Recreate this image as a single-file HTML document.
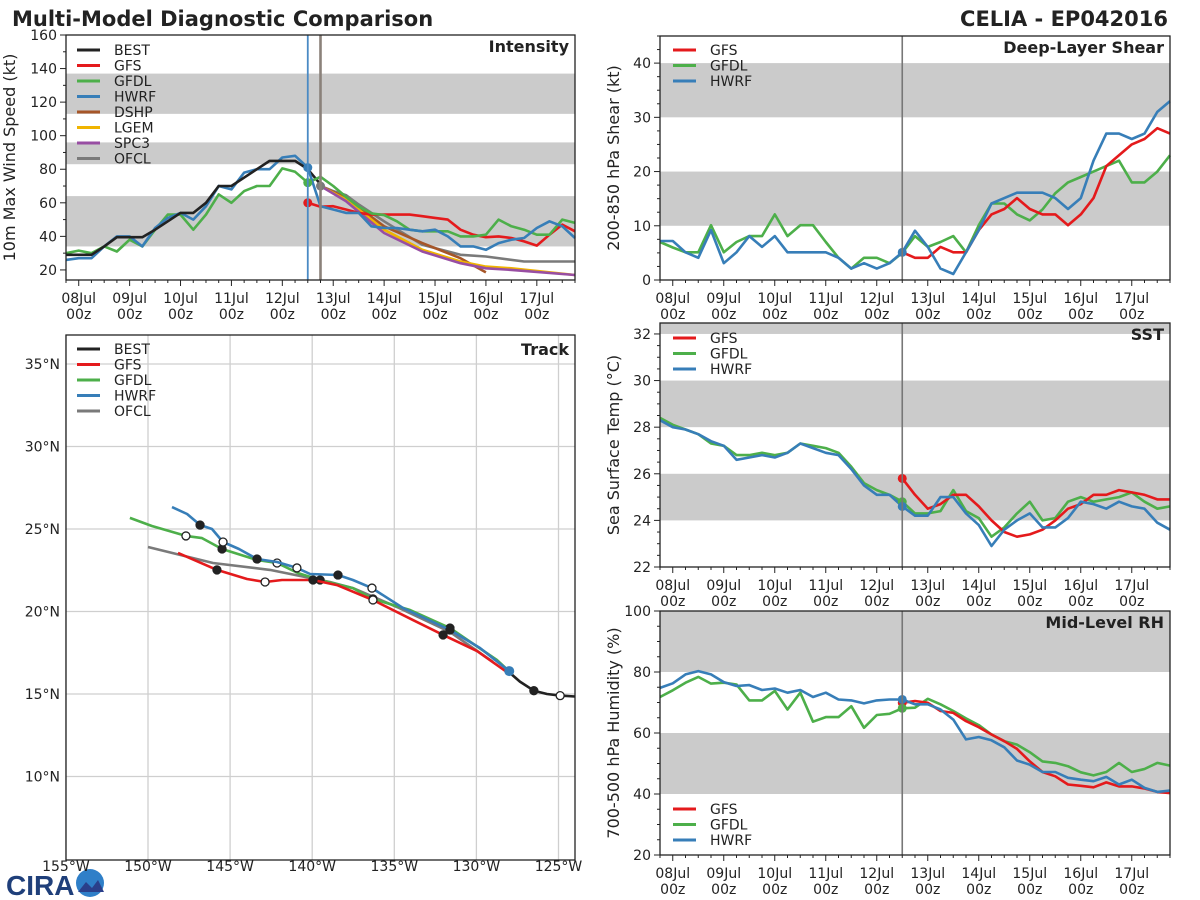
<!DOCTYPE html>
<html><head><meta charset="utf-8"><style>
html,body{margin:0;padding:0;background:#fff;}
svg{display:block;font-family:"DejaVu Sans","Liberation Sans",sans-serif;}
</style></head><body>
<svg id="chart" width="1200" height="900" viewBox="0 0 1200 900" xmlns="http://www.w3.org/2000/svg">
<text x="12" y="26" font-size="21" font-weight="bold" fill="#222">Multi-Model Diagnostic Comparison</text>
<text x="1168" y="26" font-size="21" font-weight="bold" fill="#222" text-anchor="end">CELIA - EP042016</text>
<g>
<text x="6" y="895" font-size="28" font-weight="bold" fill="#1f3f7a" font-family="Liberation Sans, sans-serif">CIRA</text>
<circle cx="90" cy="883" r="14" fill="#2f7fc8"/>
<path d="M78 892 L86 882 L92 888 L98 880 L104 892 Z" fill="#2a3f8a"/>
</g>
</svg>
<script>
const NS='http://www.w3.org/2000/svg';
const svg=document.getElementById('chart');
function mk(tag,attrs,parent){const e=document.createElementNS(NS,tag);for(const k in attrs)e.setAttribute(k,attrs[k]);(parent||svg).appendChild(e);return e;}

// ---------- DATA ----------
const C={BEST:'#222222',GFS:'#e41a1c',GFDL:'#4daf4a',HWRF:'#377eb8',DSHP:'#a65628',LGEM:'#f0b400',SPC3:'#984ea3',OFCL:'#7a7a7a'};
const dayLabels=['08Jul','09Jul','10Jul','11Jul','12Jul','13Jul','14Jul','15Jul','16Jul','17Jul'];
const T0=-0.25;
const FC0=4.5;

const intBEST=[29,29,29,34,39.5,39.5,39.5,44,49,54,54,60,70,70,75,80,85,85,85,80,71];
const intHWRFhist=[26,27,27,34,40,40,34,45,51,54,50,58,70,68,78,80,80,87,88,81];
const intHWRFfc=[58,56,54,54,46,45,45,44,43,44,40,34,34,32,36,38,39,45,49,46,39];
const intGFDLhist=[30,31.5,30,34,31,38,34,44,53,53,44,53,65,60,67,70,70,80.5,78.5,72];
const intGFDLfc=[75.5,70,63.6,57.7,53.7,52.7,49,44,43,43,43,40,40,41,50,46,44,41,41,50,48];
const intGFSfc=[60,57.7,58,56,54,53,53,53,53,52,51,50,44,41,39.5,40,39,37,34.5,41,47,43];
const ofclT=[4.75,5.0,5.25,5.5,6.0,6.75,7.5,8.0,8.75,9.75];
const ofclV=[70,67,64.6,59,49,35,29,28,25,25];
const dshpT=[4.75,5.25,6.0,6.75,7.5,8.0];
const dshpV=[70,63,46,36,27,18.5];
const lgemT=[4.75,5.25,6.0,6.75,7.5,8.0,8.5,9.75];
const lgemV=[70,62,44,32,25,22,21,17];
const spc3T=[4.75,5.25,6.0,6.75,7.5,8.0,8.5,9.75];
const spc3V=[70,61,42,31,24,21,20,17];

const shrHWRF=[7.2,7.2,5.1,4.1,9.2,3.1,5.1,8.1,6.1,8.1,5.1,5.1,5.1,5.1,4.1,2.1,3.1,2.1,3.1,5.1,9.1,6.1,2.1,1.1,5.1,9.2,14.1,15.1,16.1,16.1,16.1,15.1,13.1,15.1,22,27,27,26,27,31,33];
const shrGFDL=[7,6,5.1,5.1,10.1,5.1,7,8.1,8.1,12.1,8.1,10.1,10.1,7,4.1,2.1,4.1,4.1,3.1,5,8.1,6.1,7,8.1,5.1,10.1,14.1,14.1,12.1,11,13,16,18,19,20,21,22,18,18,20,23];
const shrGFS=[5.1,4.1,4.1,6.1,5.1,5.1,9.2,12.1,13.1,15.1,13.1,12.1,12.1,10.1,12.1,15.1,21,23,25,26,28,27];

const sstHWRF=[28.3,28.0,27.9,27.7,27.4,27.2,26.6,26.7,26.8,26.7,26.9,27.3,27.1,26.9,26.8,26.2,25.5,25.1,25.1,24.6,24.2,24.2,25.0,25.0,24.3,23.8,22.9,23.6,24.0,24.3,23.7,23.7,24.1,24.8,24.7,24.5,24.8,24.6,24.5,23.9,23.6];
const sstGFDL=[28.4,28.1,27.9,27.7,27.3,27.2,26.8,26.8,26.9,26.8,26.9,27.3,27.2,27.1,26.9,26.3,25.6,25.3,25.1,24.8,24.3,24.3,24.4,25.3,24.4,24.1,23.3,23.7,24.3,24.8,24.0,24.1,24.8,25.0,24.8,24.9,25.0,25.2,24.8,24.5,24.6];
const sstGFS=[25.8,25.1,24.5,24.7,25.1,25.1,24.6,24.0,23.5,23.3,23.4,23.6,24.0,24.5,24.7,25.1,25.1,25.3,25.2,25.1,24.9,24.9];

const rhHWRF=[74.8,76.3,79.2,80.3,79.2,76.7,75.4,75.7,74.1,74.6,73.2,74.1,71.8,73.2,71,70.7,69.7,70.7,71,71,69.4,69.4,67.7,64.4,57.9,58.7,57.6,55.3,51,49.6,47.2,47.2,45.3,44.7,44.2,45.6,43.1,44.7,42,40.7,41.1];
const rhGFDL=[71.8,74,76.5,78.4,76.2,76.5,75.9,70.7,70.7,73.8,67.7,73.2,63.7,65.2,65.2,68.8,61.7,65.9,66.3,68.1,68.3,71.2,69.4,67.2,64.8,62.6,59.5,57.3,56.2,53.7,50.7,50.2,49.1,47.1,46.1,47.2,50.2,47.2,48.2,50.2,49.3];
const rhGFS=[69.9,70.5,69.9,67.2,66.6,63.9,61.9,59.5,57.3,54.8,50.7,47.2,45.8,43.1,42.7,42.2,43.8,42.5,42.5,41.8,40.7,40.3];

const trkBESTlon=[-128.1,-127.35,-126.5,-125.7,-124.9,-124.0];
const trkBESTlat=[16.4,15.75,15.2,15.0,14.9,14.85];
const trkGFSlon=[-128.14,-129.96,-132.03,-133.86,-136.3,-138.49,-139.95,-141.84,-142.87,-143.97,-145.8,-148.17];
const trkGFSlat=[16.33,17.6,18.58,19.48,20.7,21.6,21.91,21.91,21.79,21.97,22.52,23.55];
const trkHWRFlon=[-128.0,-129.78,-131.61,-134.47,-136.36,-137.52,-138.43,-140.13,-140.93,-142.14,-143.36,-144.46,-145.43,-146.1,-146.83,-147.62,-148.54];
const trkHWRFlat=[16.39,17.79,18.88,20.21,21.42,21.91,22.21,22.27,22.64,23.0,23.18,23.79,24.21,25.0,25.24,25.91,26.33];
const trkGFDLlon=[-128.08,-128.75,-131.61,-134.04,-136.3,-137.52,-139.52,-140.86,-142.14,-143.36,-145.49,-146.71,-147.69,-149.76,-151.1];
const trkGFDLlat=[16.45,17.06,19.0,20.09,20.76,21.42,21.91,22.33,22.94,23.12,23.79,24.45,24.58,25.18,25.67];
const trkOFCLlon=[-128.99,-131.61,-134.84,-137.52,-138.92,-142.57,-146.04,-150];
const trkOFCLlat=[16.94,18.76,20.27,21.42,21.79,22.52,22.94,23.91];
const lonTicks=[-155,-150,-145,-140,-135,-130,-125];
const latTicks=[10,15,20,25,30,35];

function seriesTimes(start,n){const a=[];for(let i=0;i<n;i++)a.push(start+0.25*i);return a;}

function timePanel(p){
  const g=mk('g',{});
  
  
  const X=t=>p.x0+(t-T0)*(p.x1-p.x0)/10;
  const Y=v=>p.y1-(v-p.ymin)*(p.y1-p.y0)/(p.ymax-p.ymin);
  p.X=X;p.Y=Y;p.g=g;
  p.bands.forEach((b,i)=>{
    const lo=Math.max(b[0],p.ymin),hi=Math.min(b[1],p.ymax);
    const r=mk('rect',{x:p.x0,y:Y(hi),width:p.x1-p.x0,height:Y(lo)-Y(hi),fill:'#cbcbcb'},g);
    
    
  });
  for(let v=p.ymin0;v<=p.ymax+1e-6;v+=p.minor){
    const maj=Math.abs((v-p.ymin0)/p.major-Math.round((v-p.ymin0)/p.major))<1e-6;
    if(v<p.ymin-1e-6)continue;
    const l=mk('line',{x1:p.x0,x2:p.x0-(maj?6:3),y1:Y(v),y2:Y(v),stroke:'#222','stroke-width':1},g);
    
    
    if(maj){
      const t=mk('text',{x:p.x0-9,y:Y(v)+5,'font-size':14,'text-anchor':'end',fill:'#222'},g);
      t.textContent=String(Math.round(v));
      
      
    }
  }
  for(let i=0;i<=40;i++){
    const t=T0+0.25*i; if(t<T0||t>9.75)continue;
    const maj=Math.abs(t-Math.round(t))<1e-6;
    const l=mk('line',{x1:X(t),x2:X(t),y1:p.y1,y2:p.y1+(maj?6:3),stroke:'#222','stroke-width':1},g);
    
    
  }
  dayLabels.forEach((d,i)=>{
    const t1=mk('text',{x:X(i),y:p.y1+23,'font-size':14,'text-anchor':'middle',fill:'#222'},g);
    t1.textContent=d;
    
    
    const t2=mk('text',{x:X(i),y:p.y1+39,'font-size':14,'text-anchor':'middle',fill:'#222'},g);
    t2.textContent='00z';
    
    
  });
  const yl=mk('text',{x:0,y:0,'font-size':16,'text-anchor':'middle',fill:'#222',transform:`translate(${p.labelX},${(p.y0+p.y1)/2}) rotate(-90)`},g);
  yl.textContent=p.ylabel;
  
  
  const tt=mk('text',{x:p.x1-6,y:p.y0+17,'font-size':16,'font-weight':'bold','text-anchor':'end',fill:'#222'},g);
  tt.textContent=p.title;
  
  
  return p;
}
function frame(p){
  const r=mk('rect',{x:p.x0,y:p.y0,width:p.x1-p.x0,height:p.y1-p.y0,fill:'none',stroke:'#222','stroke-width':1.3},p.g);
  
  
}
function vline(p,t,color,w,name){
  const l=mk('line',{x1:p.X(t),x2:p.X(t),y1:p.y0,y2:p.y1,stroke:color,'stroke-width':w},p.g);
  
  
}
function series(p,times,vals,color,name){
  const pts=times.map((t,i)=>p.X(t).toFixed(1)+','+p.Y(vals[i]).toFixed(1)).join(' ');
  const l=mk('polyline',{points:pts,fill:'none',stroke:color,'stroke-width':2.6,'stroke-linejoin':'round'},p.g);
  
  
}
function dot(p,t,v,color,name){
  const c=mk('circle',{cx:p.X(t),cy:p.Y(v),r:4.5,fill:color},p.g);
  
  
}
function legend(g,x,y,items,name){
  const lg=mk('g',{},g);
  
  
  items.forEach((it,i)=>{
    const yy=y+i*15.5;
    const l=mk('line',{x1:x,x2:x+23,y1:yy,y2:yy,stroke:C[it],'stroke-width':3},lg);
    
    
    const t=mk('text',{x:x+37,y:yy+5,'font-size':14,fill:'#222'},lg);
    t.textContent=it;
    
    
  });
}

const pI=timePanel({name:'intensity-panel',x0:66,x1:575,y0:35,y1:280,ymin:14,ymax:160,ymin0:20,major:20,minor:10,bands:[[34,64],[83,96],[113,137]],ylabel:'10m Max Wind Speed (kt)',labelX:15,title:'Intensity'});
series(pI,seriesTimes(T0,intGFDLhist.length),intGFDLhist,C.GFDL,'gfdl-history-line');
series(pI,seriesTimes(T0,intHWRFhist.length),intHWRFhist,C.HWRF,'hwrf-history-line');
series(pI,seriesTimes(T0,intBEST.length),intBEST,C.BEST,'best-intensity-line');
series(pI,ofclT,ofclV,C.OFCL,'ofcl-intensity-line');
series(pI,dshpT,dshpV,C.DSHP,'dshp-intensity-line');
series(pI,lgemT,lgemV,C.LGEM,'lgem-intensity-line');
series(pI,spc3T,spc3V,C.SPC3,'spc3-intensity-line');
series(pI,seriesTimes(FC0,intGFSfc.length),intGFSfc,C.GFS,'gfs-intensity-line');
series(pI,[FC0].concat(seriesTimes(4.75,intGFDLfc.length)),[intGFDLhist[intGFDLhist.length-1]].concat(intGFDLfc),C.GFDL,'gfdl-intensity-line');
series(pI,[FC0].concat(seriesTimes(4.75,intHWRFfc.length)),[intHWRFhist[intHWRFhist.length-1]].concat(intHWRFfc),C.HWRF,'hwrf-intensity-line');
dot(pI,FC0,intGFSfc[0],C.GFS,'gfs-init-dot');
dot(pI,FC0,intGFDLhist[intGFDLhist.length-1],C.GFDL,'gfdl-init-dot');
dot(pI,FC0,intHWRFhist[intHWRFhist.length-1],C.HWRF,'hwrf-init-dot');
dot(pI,4.75,ofclV[0],C.OFCL,'ofcl-init-dot');
vline(pI,4.5,'#4a8ac4',1.8,'model-init-line');
vline(pI,4.75,'#8a817a',2.6,'ofcl-init-line');
legend(pI.g,77,50,['BEST','GFS','GFDL','HWRF','DSHP','LGEM','SPC3','OFCL'],'intensity-legend');
frame(pI);

const pS=timePanel({name:'shear-panel',x0:660,x1:1170,y0:36,y1:280,ymin:0,ymax:45,ymin0:0,major:10,minor:2.5,bands:[[10,20],[30,40]],ylabel:'200-850 hPa Shear (kt)',labelX:619,title:'Deep-Layer Shear'});
series(pS,seriesTimes(T0,shrGFDL.length),shrGFDL,C.GFDL,'gfdl-shear-line');
series(pS,seriesTimes(FC0,shrGFS.length),shrGFS,C.GFS,'gfs-shear-line');
series(pS,seriesTimes(T0,shrHWRF.length),shrHWRF,C.HWRF,'hwrf-shear-line');
dot(pS,FC0,shrHWRF[19],C.HWRF,'shear-init-dot');
vline(pS,4.5,'#777777',1.6,'init-time-line');
legend(pS.g,673,50,['GFS','GFDL','HWRF'],'shear-legend');
frame(pS);

const pT=timePanel({name:'sst-panel',x0:660,x1:1170,y0:323,y1:567,ymin:22,ymax:32.47,ymin0:22,major:2,minor:0.5,bands:[[24,26],[28,30],[32,34]],ylabel:'Sea Surface Temp (°C)',labelX:619,title:'SST'});
series(pT,seriesTimes(T0,sstGFDL.length),sstGFDL,C.GFDL,'gfdl-sst-line');
series(pT,seriesTimes(FC0,sstGFS.length),sstGFS,C.GFS,'gfs-sst-line');
series(pT,seriesTimes(T0,sstHWRF.length),sstHWRF,C.HWRF,'hwrf-sst-line');
dot(pT,FC0,sstGFS[0],C.GFS,'gfs-sst-init-dot');
dot(pT,FC0,sstGFDL[19],C.GFDL,'gfdl-sst-init-dot');
dot(pT,FC0,sstHWRF[19],C.HWRF,'hwrf-sst-init-dot');
vline(pT,4.5,'#777777',1.6,'init-time-line');
legend(pT.g,673,338,['GFS','GFDL','HWRF'],'sst-legend');
frame(pT);

const pR=timePanel({name:'rh-panel',x0:660,x1:1170,y0:611,y1:855,ymin:20,ymax:100,ymin0:20,major:20,minor:5,bands:[[40,60],[80,100]],ylabel:'700-500 hPa Humidity (%)',labelX:619,title:'Mid-Level RH'});
series(pR,seriesTimes(T0,rhGFDL.length),rhGFDL,C.GFDL,'gfdl-rh-line');
series(pR,seriesTimes(FC0,rhGFS.length),rhGFS,C.GFS,'gfs-rh-line');
series(pR,seriesTimes(T0,rhHWRF.length),rhHWRF,C.HWRF,'hwrf-rh-line');
dot(pR,FC0,rhGFS[0],C.GFS,'gfs-rh-init-dot');
dot(pR,FC0,rhGFDL[19],C.GFDL,'gfdl-rh-init-dot');
dot(pR,FC0,rhHWRF[19],C.HWRF,'hwrf-rh-init-dot');
vline(pR,4.5,'#777777',1.6,'init-time-line');
legend(pR.g,673,809,['GFS','GFDL','HWRF'],'rh-legend');
frame(pR);

(function(){
  const x0=66,x1=575,y0=335,y1=860;
  const LX=lon=>148+(lon+150)*16.42;
  const LY=lat=>529-(lat-25)*16.5;
  const g=mk('g',{});
  
  
  lonTicks.forEach(lo=>{
    const l=mk('line',{x1:LX(lo),x2:LX(lo),y1:y0,y2:y1,stroke:'#cfcfcf','stroke-width':1.3},g);
    
    
    const t=mk('text',{x:LX(lo),y:871,'font-size':14,'text-anchor':'middle',fill:'#222'},g);
    t.textContent=Math.abs(lo)+'°W';
    
    
  });
  latTicks.forEach(la=>{
    const l=mk('line',{x1:x0,x2:x1,y1:LY(la),y2:LY(la),stroke:'#cfcfcf','stroke-width':1.3},g);
    
    
    const t=mk('text',{x:60,y:LY(la)+5,'font-size':14,'text-anchor':'end',fill:'#222'},g);
    t.textContent=la+'°N';
    
    
  });
  function trk(lons,lats,color,name,marks){
    const pts=lons.map((lo,i)=>LX(lo).toFixed(1)+','+LY(lats[i]).toFixed(1)).join(' ');
    const l=mk('polyline',{points:pts,fill:'none',stroke:color,'stroke-width':2.6,'stroke-linejoin':'round'},g);
    
    
    if(marks){
      for(let i=2;i<lons.length-1;i+=2){
        const c=mk('circle',{cx:LX(lons[i]),cy:LY(lats[i]),r:4,fill:(i/2)%2?'#222':'#fff',stroke:'#222','stroke-width':1.3},g);
        
        
      }
    }
  }
  trk(trkOFCLlon,trkOFCLlat,C.OFCL,'ofcl-track',false);
  trk(trkGFDLlon,trkGFDLlat,C.GFDL,'gfdl-track',true);
  trk(trkGFSlon,trkGFSlat,C.GFS,'gfs-track',true);
  trk(trkHWRFlon,trkHWRFlat,C.HWRF,'hwrf-track',true);
  trk(trkBESTlon,trkBESTlat,C.BEST,'best-track',false);
  [[2,'#222'],[4,'#fff']].forEach(m=>{
    const c=mk('circle',{cx:LX(trkBESTlon[m[0]]),cy:LY(trkBESTlat[m[0]]),r:4,fill:m[1],stroke:'#222','stroke-width':1.3},g);
    
    
  });
  const cp=mk('circle',{cx:LX(trkHWRFlon[0]),cy:LY(trkHWRFlat[0]),r:5,fill:C.HWRF},g);
  
  
  const tt=mk('text',{x:x1-6,y:y0+20,'font-size':16,'font-weight':'bold','text-anchor':'end',fill:'#222'},g);
  tt.textContent='Track';
  
  
  legend(g,77,349,['BEST','GFS','GFDL','HWRF','OFCL'],'track-legend');
  const r=mk('rect',{x:x0,y:y0,width:x1-x0,height:y1-y0,fill:'none',stroke:'#222','stroke-width':1.3},g);
  
  
})();
</script>
</body></html>
